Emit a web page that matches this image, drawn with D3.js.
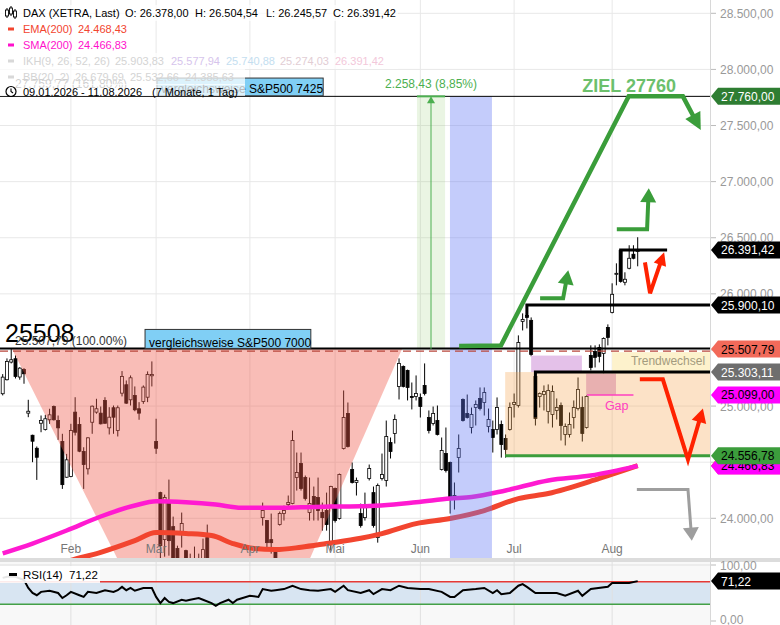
<!DOCTYPE html>
<html>
<head>
<meta charset="utf-8">
<script src="https://cdn.jsdelivr.net/npm/d3@7"></script>
<style>
  body { margin: 0; background: #fff; }
  svg { display: block; font-family: "Liberation Sans", Arial, sans-serif; }
</style>
</head>
<body>
<svg id="chart" width="780" height="625"></svg>
<script>
// DAX daily candles 09.01.2026 - 11.08.2026, [open, high, low, close]
const candles = [
  [25110,25285,25095,25258],[25235,25425,25228,25398],[25392,25507.79,25380,25413],[25422,25451,25246,25264],
  [25259,25347,25235,25338],[25326,25338,25199,25288],[24937,25056,24901,24954],[24740,24745,24500,24687],
  [24624,24640,24342,24544],[24847,24916,24767,24871],[24791,24922,24782,24887],[24878,24976,24842,24922],
  [24996,25005,24871,24878],[24871,24916,24699,24806],[24684,24753,24262,24300],[24366,24574,24361,24521],
  [24372,24842,24366,24782],[24946,25079,24738,24767],[24836,24901,24589,24598],[24595,24633,24262,24479],
  [24441,24723,24390,24717],[24856,25005,24753,24999],[24946,25065,24932,24976],[24937,24996,24836,24842],
  [25050,25079,24842,24847],[24806,24990,24747,24901],[24985,25005,24753,24901],[24782,25005,24729,24985],
  [25115,25312,25086,25264],[25190,25228,25020,25026],[25056,25273,25005,25252],[25094,25175,24954,24967],
  [24976,25035,24878,24937],[25041,25184,25020,25169],[25079,25309,25035,25282],[25270,25398,25175,25282],
  [24684,24887,24574,24624],[24229,24237,23620,23756],[23810,24211,23658,24185],[24131,24345,23667,23801],
  [23926,24015,23355,23489],[23730,23756,23355,23444],[23872,24051,23739,23953],[23712,23720,23355,23444],
  [23578,23685,23177,23266],[23355,23748,23266,23533],[23578,23685,23266,23355],[23489,23819,23399,23721],
  [23828,23944,23444,23489],[23533,23578,23043,23177],[23087,23533,22998,23444],[23355,23489,22820,22909],
  [22998,23399,22820,23266],[23177,23310,22641,22730],[22864,23221,22686,23087],[23043,23444,22953,23355],
  [23310,23489,22909,22998],[23132,23533,23043,23399],[23444,23578,22998,23087],[23266,23578,23221,23489],
  [23399,23632,23355,23623],[24006,24140,23935,24069],[23980,23985,23739,23783],[23810,24042,23685,23783],
  [23712,23720,23444,23489],[23944,24060,23935,24042],[24042,24113,23980,24069],[24122,24203,24087,24140],
  [24131,24782,24125,24693],[24363,24586,24247,24408],[24488,24586,24247,24265],[24363,24381,24158,24176],
  [24051,24363,23980,24131],[24194,24283,23980,24087],[24185,24363,23980,24069],[24051,24140,23890,24006],
  [24069,24229,23890,23944],[23774,24290,23712,24283],[24265,24274,23962,23980],[23998,24399,23989,24390],
  [24622,25139,24613,24898],[24934,25032,24631,24640],[24435,24497,24310,24319],[24319,24363,24203,24337],
  [24042,24131,23917,23935],[24006,24229,23980,24122],[24354,24479,24337,24443],[24229,24283,23917,23935],
  [23828,24310,23783,24292],[24354,24577,24337,24390],[24337,24871,24283,24729],[24675,24720,24533,24595],
  [24756,24925,24666,24880],[25175,25425,25059,25380],[25353,25362,25166,25175],[25318,25325,25050,25166],
  [25086,25210,24970,25077],[25086,25273,25050,25112],[25077,25112,24898,24996],[25184,25380,25095,25112],
  [24898,24961,24756,24782],[24845,24996,24827,24934],[24871,25005,24738,24747],[24435,24720,24426,24604],
  [24577,24809,24408,24426],[24497,24505,24042,24185],[24185,24319,24078,24203],[24541,24747,24408,24622],
  [25059,25068,24862,24871],[24934,25103,24889,24898],[24809,24987,24756,24925],[24987,25050,24827,25014],
  [25068,25166,24961,24978],[25032,25166,24916,25121],[24818,24978,24765,24880],[24791,24871,24586,24720],
  [24791,25077,24747,24987],[24836,24871,24541,24657],[24711,24747,24541,24613],[24791,25032,24782,24987],
  [25014,25112,24898,25032],[25005,25630,24987,25567],[25755,25826,25674,25772],[25808,25880,25692,25790],
  [25764,25790,25443,25460],[25264,25273,24827,24889],[25086,25121,24987,25112],[25103,25184,24961,25130],
  [24952,25193,24845,25139],[24925,25184,24809,25130],[24961,25068,24880,24987],[25005,25032,24693,24827],
  [24747,24845,24649,24818],[24747,24943,24720,24836],[24898,25050,24800,24987],[24978,25255,24961,25148],
  [24987,25086,24684,24756],[24809,25095,24800,25086],[25451,25541,25318,25344],[25487,25541,25344,25434],
  [25523,25550,25389,25443],[25469,25612,25291,25603],[25701,25728,25541,25612],[25835,26094,25826,25996],
  [26175,26272,26076,26183],[26388,26395,26100,26112],[26103,26192,26076,26130],[26228,26433,26219,26317],
  [26353,26433,26308,26317],[26378.00,26504.54,26245.57,26391.42]
]

// month labels and the candle index of each month's first trading day
const monthLabels = ['Feb', 'Mär', 'Apr', 'Mai', 'Jun', 'Jul', 'Aug']
const monthStart = [16, 36, 58, 78, 98, 120, 143]

const priceTicks = [24000, 24500, 25000, 25500, 26000, 26500, 27000, 27500, 28000, 28500]
const rsiTicks = [0, 100]

// moving averages, [candle index, value]
const sma200 = [
  [0,23688],[7,23775],[15,23891],[23,24016],[31,24114],[36,24152],[43,24143],[50,24122],
  [56,24093],[62,24093],[70,24098],[77,24105],[84,24107],[97,24143],[105,24176],[110,24190],
  [118,24248],[128,24337],[138,24381],[149,24466.83]
]
const ema200 = [
  [0,23420],[8,23530],[16,23625],[23,23697],[31,23801],[36,23873],[43,23864],[49,23846],
  [54,23775],[59,23730],[64,23721],[70,23742],[76,23775],[84,23822],[89,23864],[97,23953],
  [105,23998],[113,24069],[121,24176],[128,24221],[140,24355],[149,24468.43]
]
const rsi14 = [
  [0,77],[1,79],[3,79],[5,73],[6,59],[7,50],[8,46],[9,52],[11,54],[13,50],[14,41],[15,46],
  [16,52],[18,46],[19,43],[20,52],[22,50],[24,55],[26,52],[27,55],[28,61],[29,55],[30,59],
  [31,54],[33,59],[35,59],[36,43],[37,32],[38,41],[39,34],[40,32],[42,38],[43,36],[44,38],
  [46,41],[47,38],[49,32],[50,27],[51,32],[53,38],[54,32],[55,38],[58,45],[60,43],[61,57],
  [63,54],[64,55],[66,57],[68,63],[70,57],[72,55],[74,54],[77,57],[78,52],[80,63],[81,55],
  [84,50],[86,55],[87,48],[89,57],[91,55],[93,63],[95,59],[98,57],[100,57],[103,52],[105,43],
  [106,43],[108,55],[111,57],[113,59],[115,50],[116,55],[117,48],[119,50],[121,63],[122,66],
  [123,61],[125,50],[127,50],[130,50],[132,45],[135,54],[136,45],[138,57],[142,61],[143,68],
  [145,68],[147,68],[149,71.22]
]

// drawn levels
const fibBase = 25507.79
const fibTarget = 27760
const brackets = [
  // [from index, level, vertical end]
  [145, 26391.42, 26110],
  [123, 25900.10, 25800],
  [125, 25303.11, 24900]
]
const zoneTop = 25303.11
const zoneBottom = 24556.78
const gapLevel = 25099

// hand drawn arrows, [index, price]
const greenBig = [[107.1,25535],[116.9,25540],[146.9,27760],[159.6,27760],[163.8,27459]]
const greenUp1 = [[126.1,25960],[131.5,25960],[132.7,26210]]
const greenUp2 = [[144.1,26576],[151.2,26576],[151.6,26941]]
const redSmall = [[150.7,26281],[151.9,26005],[155.2,26370]]
const redBig = [[149.5,25238],[154.9,25238],[160.8,24524],[164.3,24979]]
const grayDown = [[148.8,24256],[160.8,24256],[161.7,23801]]

// price tags on the right axis
const tags = [
  [27760, '#2e7d32', '#fff'],
  [26391.42, '#000', '#fff'],
  [25900.10, '#000', '#fff'],
  [25507.79, '#f26a5a', '#000'],
  [25303.11, '#6e6e6e', '#fff'],
  [25099, '#ff00ff', '#000'],
  [24468.43, '#f2452f', '#000'],
  [24466.83, '#ff00ff', '#000'],
  [24556.78, '#3c9d3c', '#000']
]

const plotRight = 710
const mainBottom = 558

const svg = d3.select('#chart')
const de = d3.formatLocale({ decimal: ',', thousands: '.', grouping: [3], currency: ['', ''] })
const fmt = de.format(',.2f')

const x = d3.scaleLinear().domain([0, 149]).range([2.7, 637.7])
const y = d3.scaleLinear().domain([24000, 28500]).range([518.3, 13.3])
const yR = d3.scaleLinear().domain([0, 100]).range([621, 565])
const px = p => [x(p[0]), y(p[1])]

const defs = svg.append('defs')
defs.append('clipPath').attr('id', 'clipMain')
  .append('rect').attr('x', 0).attr('y', 0).attr('width', plotRight).attr('height', mainBottom)
defs.append('clipPath').attr('id', 'clipRsi')
  .append('rect').attr('x', 0).attr('y', 562).attr('width', plotRight).attr('height', 63)

// grid
const grid = svg.append('g').attr('stroke', '#e8e8e8').attr('stroke-width', 1)
grid.selectAll('line.h').data(priceTicks).join('line')
  .attr('x1', 0).attr('x2', plotRight)
  .attr('y1', d => y(d)).attr('y2', d => y(d))
grid.selectAll('line.v').data(monthStart).join('line')
  .attr('x1', d => x(d)).attr('x2', d => x(d))
  .attr('y1', 0).attr('y2', mainBottom)

const main = svg.append('g').attr('clip-path', 'url(#clipMain)')

// candles
const candleG = main.append('g')
candleG.selectAll('line').data(candles).join('line')
  .attr('x1', (d, i) => x(i)).attr('x2', (d, i) => x(i))
  .attr('y1', d => y(d[1])).attr('y2', d => y(d[2]))
  .attr('stroke', '#000').attr('stroke-width', 1)
candleG.selectAll('rect').data(candles).join('rect')
  .attr('x', (d, i) => x(i) - 1.5)
  .attr('width', 3)
  .attr('y', d => y(Math.max(d[0], d[3])))
  .attr('height', d => Math.max(1, Math.abs(y(d[0]) - y(d[3]))))
  .attr('fill', d => d[3] >= d[0] ? '#fff' : '#000')
  .attr('stroke', '#000').attr('stroke-width', 0.8)

// pink triangle
const tri = [[2.2, fibBase], [93.7, fibBase], [51, 21820]]
main.append('path')
  .attr('d', d3.line()(tri.map(px)) + 'Z')
  .attr('fill', '#f05a4b').attr('fill-opacity', 0.4)

// moving averages
const maLine = d3.line().x(d => x(d[0])).y(d => y(d[1])).curve(d3.curveMonotoneX)
main.append('path').datum(ema200).attr('d', maLine)
  .attr('fill', 'none').attr('stroke', '#f2452f').attr('stroke-width', 5)
main.append('path').datum(sma200).attr('d', maLine)
  .attr('fill', 'none').attr('stroke', '#ff1ad1').attr('stroke-width', 4.5)

// blue band and measuring tool
main.append('rect')
  .attr('x', x(104.95)).attr('width', x(114.8) - x(104.95))
  .attr('y', y(fibTarget)).attr('height', mainBottom - y(fibTarget))
  .attr('fill', '#6478f5').attr('fill-opacity', 0.38)
main.append('rect')
  .attr('x', x(97.2)).attr('width', x(103.8) - x(97.2))
  .attr('y', y(fibTarget)).attr('height', y(fibBase) - y(fibTarget))
  .attr('fill', '#8cc864').attr('fill-opacity', 0.18)

// orange zone and boxes
main.append('rect')
  .attr('x', x(117.9)).attr('width', plotRight - x(117.9))
  .attr('y', y(zoneTop)).attr('height', y(zoneBottom) - y(zoneTop))
  .attr('fill', '#f5a046').attr('fill-opacity', 0.3)
main.append('rect')
  .attr('x', x(124)).attr('width', x(135.9) - x(124))
  .attr('y', y(25450)).attr('height', y(zoneTop) - y(25450))
  .attr('fill', '#e4c1e9')
main.append('rect')
  .attr('x', x(136.9)).attr('width', x(143.9) - x(136.9))
  .attr('y', y(25290)).attr('height', y(gapLevel) - y(25290))
  .attr('fill', '#e8b0b0')
main.append('line')
  .attr('x1', x(137.1)).attr('x2', x(148)).attr('y1', y(gapLevel)).attr('y2', y(gapLevel))
  .attr('stroke', '#ff3fc0').attr('stroke-width', 1.5)
main.append('text').attr('x', x(141.3)).attr('y', y(24961))
  .attr('font-size', 12.5).attr('fill', '#ff3fc0').text('Gap')
main.append('rect')
  .attr('x', x(143)).attr('width', plotRight - x(143))
  .attr('y', y(25480)).attr('height', y(zoneTop) - y(25480))
  .attr('fill', '#fdf2cc')
main.append('text').attr('x', x(147.4)).attr('y', y(25370))
  .attr('font-size', 12).attr('fill', '#a39b7e').text('Trendwechsel')
main.append('line')
  .attr('x1', x(117.9)).attr('x2', plotRight).attr('y1', y(zoneBottom)).attr('y2', y(zoneBottom))
  .attr('stroke', '#3c9d3c').attr('stroke-width', 3)

// horizontal lines
main.append('line')
  .attr('x1', 0).attr('x2', plotRight).attr('y1', y(fibTarget)).attr('y2', y(fibTarget))
  .attr('stroke', '#000').attr('stroke-width', 1)
main.append('line')
  .attr('x1', 0).attr('x2', plotRight).attr('y1', y(fibBase) - 0.5).attr('y2', y(fibBase) - 0.5)
  .attr('stroke', '#000').attr('stroke-width', 2)
main.append('line')
  .attr('x1', 0).attr('x2', plotRight).attr('y1', y(fibBase) + 2).attr('y2', y(fibBase) + 2)
  .attr('stroke', '#b9473c').attr('stroke-width', 1.3).attr('stroke-dasharray', '8,5')

main.selectAll('path.bracket').data(brackets).join('path')
  .attr('d', d => `M${x(d[0])},${y(d[2])}V${y(d[1])}H${d[1] > 26000 ? x(155.9) : plotRight}`)
  .attr('fill', 'none').attr('stroke', '#000').attr('stroke-width', 3)

// measuring arrow
const mx = x(100.5)
main.append('line')
  .attr('x1', x(97.2)).attr('x2', x(103.8)).attr('y1', y(fibTarget)).attr('y2', y(fibTarget))
  .attr('stroke', '#4caf50').attr('stroke-width', 2)
main.append('line')
  .attr('x1', mx).attr('x2', mx).attr('y1', y(fibBase)).attr('y2', y(fibTarget) + 6)
  .attr('stroke', '#4caf50').attr('stroke-width', 1)
main.append('path')
  .attr('d', `M${mx},${y(fibTarget)}L${mx - 4},${y(fibTarget) + 7}L${mx + 4},${y(fibTarget) + 7}Z`)
  .attr('fill', '#4caf50')

// arrows
function arrow(pts, color, width, headLen, headW) {
  const p = pts.map(px)
  const n = p.length
  const [x1, y1] = p[n - 2], [x2, y2] = p[n - 1]
  const L = Math.hypot(x2 - x1, y2 - y1)
  const ux = (x2 - x1) / L, uy = (y2 - y1) / L
  const bx = x2 - ux * headLen, by = y2 - uy * headLen
  const body = p.slice(0, n - 1).concat([[bx + ux, by + uy]])
  main.append('path').attr('d', d3.line()(body))
    .attr('fill', 'none').attr('stroke', color).attr('stroke-width', width)
    .attr('stroke-linejoin', 'miter')
  main.append('path')
    .attr('d', `M${x2},${y2}L${bx - uy * headW / 2},${by + ux * headW / 2}L${bx + uy * headW / 2},${by - ux * headW / 2}Z`)
    .attr('fill', color)
}
arrow(greenBig, '#3a9d3a', 4.5, 17, 17)
arrow(greenUp1, '#3a9d3a', 4, 14, 16)
arrow(greenUp2, '#3a9d3a', 4, 14, 16)
arrow(redSmall, '#ff2200', 4, 13, 13)
arrow(redBig, '#ff2200', 4, 14, 15)
arrow(grayDown, '#9e9e9e', 3, 13, 16)

// annotation texts
main.append('text').attr('x', x(136)).attr('y', y(27800))
  .attr('font-size', 18).attr('font-weight', 'bold').attr('fill', '#6cc06c').text('ZIEL 27760')
main.append('text').attr('x', mx).attr('y', y(27830)).attr('text-anchor', 'middle')
  .attr('font-size', 12).attr('fill', '#4caf50').text('2.258,43 (8,85%)')

main.append('text').attr('x', 5).attr('y', y(25568))
  .attr('font-size', 25).attr('fill', '#000').text('25508')
main.append('text').attr('x', 15).attr('y', y(25541))
  .attr('font-size', 12).attr('fill', '#333').text('25.507,79 (100.00%)')
main.append('rect')
  .attr('x', x(33.4)).attr('width', x(72.3) - x(33.4))
  .attr('y', y(25683)).attr('height', y(25514) - y(25683))
  .attr('fill', '#80cff5').attr('stroke', '#333').attr('stroke-width', 1)
main.append('text').attr('x', x(33.4) + 4).attr('y', y(25530))
  .attr('font-size', 12).attr('fill', '#000').text('vergleichsweise S&P500 7000')

main.append('text').attr('x', 15).attr('y', 88)
  .attr('font-size', 12).attr('fill', '#555').text('27.759,77 (161.80%)')
main.append('rect')
  .attr('x', x(36.2)).attr('width', x(75.2) - x(36.2))
  .attr('y', y(27923)).attr('height', y(27765) - y(27923))
  .attr('fill', '#80cff5').attr('stroke', '#333').attr('stroke-width', 1)
main.append('text').attr('x', x(36.2) + 4).attr('y', y(27790))
  .attr('font-size', 12).attr('fill', '#000').text('vergleichsweise S&P500 7425')

// month labels
svg.append('g').selectAll('text').data(monthLabels).join('text')
  .attr('x', (d, i) => x(monthStart[i])).attr('y', 553)
  .attr('text-anchor', 'middle').attr('font-size', 12).attr('fill', '#777')
  .text(d => d)

// RSI panel
svg.append('rect').attr('x', 0).attr('y', mainBottom).attr('width', 780).attr('height', 4).attr('fill', '#dcdcdc')
const rsiG = svg.append('g').attr('clip-path', 'url(#clipRsi)')
rsiG.append('rect').attr('x', 0).attr('y', 562).attr('width', plotRight).attr('height', 63).attr('fill', '#f8f8f8')
rsiG.append('rect').attr('x', 0).attr('y', yR(70)).attr('width', plotRight).attr('height', yR(30) - yR(70)).attr('fill', '#d8e5f2')
rsiG.selectAll('line.v').data(monthStart).join('line')
  .attr('x1', d => x(d)).attr('x2', d => x(d)).attr('y1', 562).attr('y2', 625)
  .attr('stroke', '#e0e0e0')
rsiG.append('line').attr('x1', 0).attr('x2', plotRight).attr('y1', yR(100)).attr('y2', yR(100)).attr('stroke', '#e0e0e0')
rsiG.append('line').attr('x1', 0).attr('x2', plotRight).attr('y1', yR(70)).attr('y2', yR(70))
  .attr('stroke', '#e53935').attr('stroke-width', 1.5)
rsiG.append('line').attr('x1', 0).attr('x2', plotRight).attr('y1', yR(30)).attr('y2', yR(30))
  .attr('stroke', '#43a047').attr('stroke-width', 1.5)
rsiG.append('path').datum(rsi14)
  .attr('d', d3.line().x(d => x(d[0])).y(d => yR(d[1])))
  .attr('fill', 'none').attr('stroke', '#000').attr('stroke-width', 2)
rsiG.append('rect').attr('x', 0).attr('y', 566).attr('width', 100).attr('height', 17).attr('fill', '#fff').attr('fill-opacity', 0.9)
rsiG.append('rect').attr('x', 9).attr('y', 573).attr('width', 8).attr('height', 3).attr('fill', '#000')
rsiG.append('text').attr('x', 23).attr('y', 579).attr('font-size', 11.5).attr('fill', '#000')
  .text('RSI(14)  71,22').attr('xml:space', 'preserve')

// right axis
svg.append('line').attr('x1', plotRight + 0.5).attr('x2', plotRight + 0.5).attr('y1', 0).attr('y2', 625)
  .attr('stroke', '#d8d8d8')
const axisG = svg.append('g').attr('font-size', 12).attr('fill', '#999')
axisG.selectAll('line').data(priceTicks).join('line')
  .attr('x1', 711).attr('x2', 716).attr('y1', d => y(d)).attr('y2', d => y(d)).attr('stroke', '#bbb')
axisG.selectAll('text').data(priceTicks).join('text')
  .attr('x', 720).attr('y', d => y(d) + 4.5).text(d => fmt(d))
const rAxis = svg.append('g').attr('font-size', 12).attr('fill', '#999')
rAxis.selectAll('line').data(rsiTicks).join('line')
  .attr('x1', 711).attr('x2', 716).attr('y1', d => yR(d)).attr('y2', d => yR(d)).attr('stroke', '#bbb')
rAxis.selectAll('text').data(rsiTicks).join('text')
  .attr('x', 720).attr('y', d => Math.min(yR(d) + 4.5, 623.5)).text(d => fmt(d))

function tag(yv, label, bg, fg) {
  svg.append('path')
    .attr('d', `M711,${yv}L718,${yv - 8.5}H780V${yv + 8.5}H718Z`)
    .attr('fill', bg)
  svg.append('text').attr('x', 721).attr('y', yv + 4.5)
    .attr('font-size', 12).attr('fill', fg).text(label)
}
tags.forEach(t => tag(y(t[0]), fmt(t[0]), t[1], t[2]))
tag(yR(71.22), '71,22', '#000', '#fff')

// legend
const legend = svg.append('g').attr('font-size', 11)
const rowBg = [[17, 398], [33, 134], [49, 134], [65, 398], [81, 245], [96, 245]]
rowBg.forEach(r => legend.append('rect')
  .attr('x', 0).attr('y', r[0] - 12).attr('width', r[1]).attr('height', r[0] === 96 ? 12 : 16)
  .attr('fill', '#fff').attr('fill-opacity', 0.72))

const rows = [
  [17, [[23, 'DAX (XETRA, Last)', '#000'], [125, 'O: 26.378,00', '#000'], [195, 'H: 26.504,54', '#000'],
        [266, 'L: 26.245,57', '#000'], [333, 'C: 26.391,42', '#000']]],
  [33, [[23, 'EMA(200)', '#f2452f'], [78, '24.468,43', '#f2452f']]],
  [49, [[23, 'SMA(200)', '#ff10cc'], [78, '24.466,83', '#ff10cc']]],
  [65, [[23, 'IKH(9, 26, 52, 26)', '#d4d4d4'], [115, '25.903,83', '#d4d4d4'], [171, '25.577,94', '#d6c4ec'],
        [226, '25.740,88', '#c4def0'], [280, '25.274,03', '#e2cdd4'], [335, '26.391,42', '#f3c8da']]],
  [81, [[23, 'BB(20, 2)', '#d4d4d4'], [75, '26.679,69', '#d4d4d4'], [130, '25.532,66', '#d4d4d4'],
        [185, '24.385,63', '#d4d4d4']]],
  [96, [[23, '09.01.2026 - 11.08.2026', '#000'], [152, '(7 Monate, 1 Tag)', '#000']]]
]
rows.forEach(r => r[1].forEach(s => legend.append('text')
  .attr('x', s[0]).attr('y', r[0]).attr('fill', s[2]).text(s[1])))

// legend icons
const ic = legend.append('g')
;[[7, 10, 16], [11, 8, 14], [15, 11, 17]].forEach(c => {
  ic.append('line').attr('x1', c[0]).attr('x2', c[0]).attr('y1', c[1] - 2).attr('y2', c[2] + 2).attr('stroke', '#000')
  ic.append('rect').attr('x', c[0] - 1.5).attr('y', c[1]).attr('width', 3).attr('height', c[2] - c[1])
    .attr('fill', '#fff').attr('stroke', '#000').attr('stroke-width', 0.9)
})
;[[29, '#f2452f'], [45, '#ff10cc'], [61, '#d8d8d8'], [77, '#d8d8d8']].forEach(d => {
  ic.append('rect').attr('x', 8).attr('y', d[0] - 1.5).attr('width', 6).attr('height', 3).attr('fill', d[1])
})
ic.append('circle').attr('cx', 11).attr('cy', 91.5).attr('r', 5).attr('fill', 'none').attr('stroke', '#000').attr('stroke-width', 1.2)
ic.append('path').attr('d', 'M11,88.5V91.5L13,93').attr('fill', 'none').attr('stroke', '#000').attr('stroke-width', 1.1)
</script>
</body>
</html>
